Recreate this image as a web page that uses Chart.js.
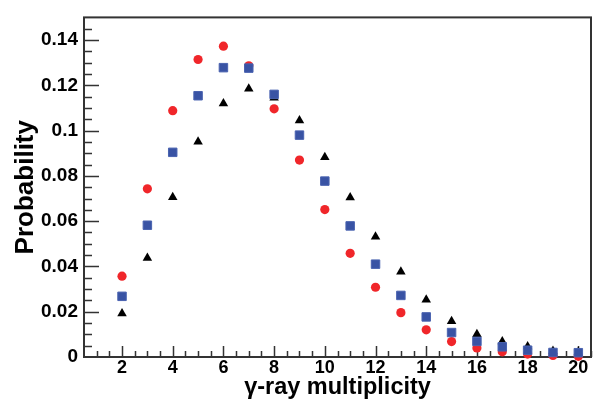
<!DOCTYPE html>
<html>
<head>
<meta charset="utf-8">
<script src="https://cdn.jsdelivr.net/npm/chart.js@4.4.0/dist/chart.umd.min.js"></script>
<style>
  html, body { margin: 0; padding: 0; background: #fff; }
  #c { display: block; }
</style>
</head>
<body>
<canvas id="c" width="600" height="402"></canvas>
<script>
const multiplicity = [2, 3, 4, 5, 6, 7, 8, 9, 10, 11, 12, 13, 14, 15, 16, 17, 18, 19, 20];
const redCircles = [0.0357, 0.0743, 0.1088, 0.1314, 0.1373, 0.1286, 0.1096, 0.087, 0.0651, 0.0458,
    0.0308, 0.0196, 0.012, 0.0068, 0.004, 0.0023, 0.0013, 0.0007, 0.0003];
const blueSquares = [0.0268, 0.0582, 0.0904, 0.1154, 0.1278, 0.1276, 0.116, 0.098, 0.0777, 0.0579,
    0.041, 0.0272, 0.0177, 0.0108, 0.0069, 0.0045, 0.003, 0.002, 0.0019];
const blackTriangles = [0.0192, 0.0437, 0.0706, 0.0951, 0.112, 0.1185, 0.1145, 0.1045, 0.0882, 0.0705,
    0.0531, 0.0377, 0.0253, 0.0158, 0.0101, 0.0069, 0.0046, 0.0027, 0.0022];
const xTicks = [2, 4, 6, 8, 10, 12, 14, 16, 18, 20];
const yTicks = [0, 0.02, 0.04, 0.06, 0.08, 0.1, 0.12, 0.14];

const toPoints = (ys) => multiplicity.map((x, i) => ({ x: x, y: ys[i] }));

// frame + inward ticks (major and minor), ROOT style
const frameTicks = {
    id: 'frameTicks',
    beforeDatasetsDraw(chart) {
        const { ctx, chartArea: a, scales: { x, y } } = chart;
        ctx.save();
        ctx.strokeStyle = '#333';
        ctx.lineWidth = 1.5;
        ctx.beginPath();
        for (let v = 1; v <= 20.5; v += 0.5) {
            const px = Math.round(x.getPixelForValue(v)) + 0.5;
            const len = (v % 2 === 0) ? 11 : 6;
            ctx.moveTo(px, a.bottom);
            ctx.lineTo(px, a.bottom - len);
        }
        for (let k = 1; k < 30; k++) {
            const v = k * 0.005;
            const py = Math.round(y.getPixelForValue(v)) + 0.5;
            const len = (k % 4 === 0) ? 15 : 8;
            ctx.moveTo(a.left, py);
            ctx.lineTo(a.left + len, py);
        }
        ctx.stroke();
        ctx.lineWidth = 2;
        ctx.strokeRect(a.left, a.top, a.right - a.left, a.bottom - a.top);
        ctx.restore();
    }
};

new Chart(document.getElementById('c'), {
    type: 'scatter',
    data: {
        datasets: [{
            label: 'blue',
            data: toPoints(blueSquares),
            pointStyle: 'rect',
            pointRadius: 6,
            backgroundColor: '#3953a4',
            borderColor: '#4a63b0',
            borderWidth: 1
        }, {
            label: 'red',
            data: toPoints(redCircles),
            pointStyle: 'circle',
            pointRadius: 4.6,
            backgroundColor: '#f0262a',
            borderColor: '#f0262a',
            borderWidth: 0
        }, {
            label: 'black',
            data: toPoints(blackTriangles),
            pointStyle: 'triangle',
            pointRadius: 5.5,
            backgroundColor: '#000',
            borderColor: '#000',
            borderWidth: 0
        }]
    },
    options: {
        responsive: false,
        animation: false,
        clip: false,
        layout: { padding: { left: 6, top: 10, right: 9, bottom: 0 } },
        plugins: {
            legend: { display: false },
            tooltip: { enabled: false }
        },
        scales: {
            x: {
                type: 'linear',
                min: 0.5,
                max: 20.5,
                grid: { display: false, drawTicks: false },
                border: { display: false },
                afterBuildTicks: (s) => { s.ticks = xTicks.map(v => ({ value: v })); },
                afterFit: (s) => { s.height = 45; },
                ticks: {
                    color: '#000',
                    padding: 0,
                    maxRotation: 0,
                    font: { family: 'Liberation Sans', size: 18, weight: 'bold' }
                },
                title: {
                    display: true,
                    text: 'γ-ray multiplicity',
                    color: '#000',
                    padding: { top: 0, bottom: 0 },
                    font: { family: 'Liberation Sans', size: 23.5, weight: 'bold' }
                }
            },
            y: {
                min: 0,
                max: 0.15,
                grid: { display: false, drawTicks: false },
                border: { display: false },
                afterBuildTicks: (s) => { s.ticks = yTicks.map(v => ({ value: v })); },
                afterFit: (s) => { s.width = 78; },
                ticks: {
                    color: '#000',
                    padding: 6,
                    callback: (v) => String(+v.toFixed(2)),
                    font: { family: 'Liberation Sans', size: 19, weight: 'bold' }
                },
                title: {
                    display: true,
                    text: 'Probability',
                    color: '#000',
                    padding: { top: 4, bottom: 0 },
                    font: { family: 'Liberation Sans', size: 26, weight: 'bold' }
                }
            }
        }
    },
    plugins: [frameTicks]
});
</script>
</body>
</html>
